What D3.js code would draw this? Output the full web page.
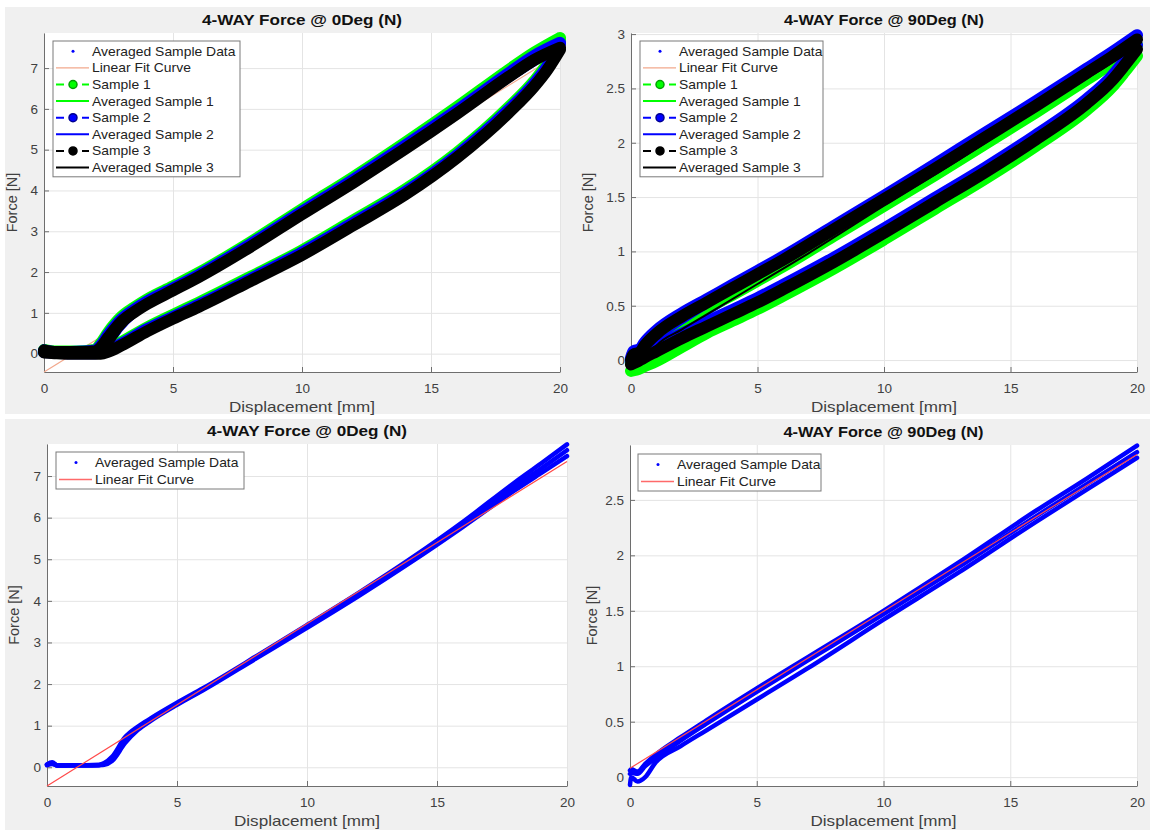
<!DOCTYPE html>
<html lang="en">
<head>
<meta charset="UTF-8">
<title>4-WAY Force</title>
<script src="https://d3js.org/d3.v7.min.js"></script>
<style>
  body { margin: 0; background: #fff; }
  svg { display: block; font-family: "Liberation Sans", Arial, sans-serif; }
</style>
</head>
<body>
<svg width="1152" height="830"></svg>
<script>
// ---------- data ----------
const xTicks = [0, 5, 10, 15, 20];
const yTicks0 = [0, 1, 2, 3, 4, 5, 6, 7];
const yTicks90 = [0, 0.5, 1, 1.5, 2, 2.5, 3];
const yTicks90b = [0, 0.5, 1, 1.5, 2, 2.5];

// 0 deg, loading branch (x ascending)
const xLoad0 = [0, 0.5, 1, 1.5, 2, 2.2, 2.5, 3, 3.5, 4, 5, 6, 8, 10, 12, 14, 16, 18, 19, 20];
const s1Load0 = [0.09, 0.05, 0.05, 0.06, 0.1, 0.25, 0.53, 0.9, 1.13, 1.33, 1.65, 1.98, 2.73, 3.54, 4.33, 5.17, 6.04, 6.95, 7.38, 7.74];
const s2Load0 = [0.08, 0.04, 0.04, 0.05, 0.08, 0.2, 0.47, 0.84, 1.08, 1.28, 1.6, 1.93, 2.68, 3.48, 4.27, 5.1, 5.96, 6.87, 7.3, 7.62];
const s3Load0 = [0.08, 0.04, 0.04, 0.04, 0.06, 0.15, 0.4, 0.78, 1.02, 1.22, 1.55, 1.88, 2.62, 3.42, 4.2, 5.02, 5.88, 6.78, 7.2, 7.5];
// 0 deg, unloading branch (x ascending)
const xUnload0 = [0, 0.5, 1, 1.5, 2, 2.2, 2.5, 3, 4, 5, 6, 8, 10, 12, 14, 16, 18, 19, 19.5, 20];
const s1Unload0 = [0.05, 0.03, 0.02, 0.02, 0.02, 0.04, 0.1, 0.28, 0.64, 0.95, 1.25, 1.88, 2.53, 3.27, 4.02, 4.92, 6.03, 6.68, 7.1, 7.7];
const s2Unload0 = [0.04, 0.02, 0.01, 0.01, 0.01, 0.02, 0.08, 0.24, 0.6, 0.9, 1.2, 1.83, 2.48, 3.21, 3.96, 4.86, 5.97, 6.62, 7.03, 7.6];
const s3Unload0 = [0.03, 0.01, 0.0, 0.0, 0.0, 0.0, 0.05, 0.2, 0.55, 0.86, 1.15, 1.78, 2.42, 3.15, 3.9, 4.8, 5.9, 6.55, 6.95, 7.45];

// 90 deg, loading branch
const xLoad90 = [0, 0.1, 0.2, 0.3, 0.5, 1, 2, 3, 4, 5, 6, 8, 10, 12, 14, 16, 18, 19, 20];
const s1Load90 = [-0.03, 0.0, 0.01, 0.02, 0.08, 0.19, 0.35, 0.48, 0.6, 0.73, 0.86, 1.14, 1.42, 1.7, 1.99, 2.28, 2.58, 2.73, 2.9];
const s2Load90 = [0.02, 0.08, 0.09, 0.08, 0.15, 0.27, 0.43, 0.56, 0.69, 0.82, 0.95, 1.23, 1.51, 1.8, 2.09, 2.38, 2.68, 2.83, 2.99];
const s3Load90 = [0.0, 0.05, 0.06, 0.05, 0.12, 0.24, 0.4, 0.53, 0.66, 0.79, 0.92, 1.2, 1.48, 1.76, 2.05, 2.34, 2.64, 2.79, 2.95];
// 90 deg, unloading branch
const xUnload90 = [0, 0.2, 0.5, 1, 2, 3, 4, 5, 6, 8, 10, 12, 14, 16, 18, 19, 19.5, 20];
const s1Unload90 = [-0.1, -0.09, -0.06, -0.01, 0.12, 0.25, 0.36, 0.47, 0.59, 0.84, 1.11, 1.39, 1.67, 1.97, 2.3, 2.51, 2.65, 2.8];
const s2Unload90 = [0.0, 0.02, 0.06, 0.12, 0.24, 0.35, 0.46, 0.57, 0.69, 0.94, 1.21, 1.49, 1.77, 2.07, 2.4, 2.61, 2.75, 2.9];
const s3Unload90 = [-0.04, -0.02, 0.02, 0.08, 0.2, 0.31, 0.42, 0.53, 0.65, 0.9, 1.17, 1.45, 1.73, 2.03, 2.36, 2.57, 2.71, 2.86];

// averaged sample data (bottom row)
const xAvg0 = [0, 0.2, 0.4, 1, 1.5, 2, 2.2, 2.5, 3, 3.5, 4, 5, 6, 8, 10, 12, 14, 16, 18, 19, 20];
const avgA0 = [0.07, 0.12, 0.04, 0.05, 0.05, 0.06, 0.1, 0.25, 0.72, 0.98, 1.18, 1.55, 1.9, 2.65, 3.42, 4.2, 5.02, 5.9, 6.85, 7.3, 7.76];
const avgB0 = [0.06, 0.1, 0.04, 0.05, 0.05, 0.05, 0.08, 0.2, 0.65, 0.94, 1.15, 1.52, 1.87, 2.62, 3.38, 4.16, 4.97, 5.84, 6.75, 7.18, 7.62];
const avgC0 = [0.05, 0.08, 0.04, 0.04, 0.04, 0.05, 0.06, 0.15, 0.58, 0.9, 1.12, 1.5, 1.85, 2.6, 3.35, 4.12, 4.93, 5.78, 6.66, 7.07, 7.48];
const xAvg90 = [0, 0.05, 0.3, 0.6, 1, 2, 3, 5, 7, 10, 13, 16, 18, 20];
const avgA90 = [0.06, 0.07, 0.05, 0.12, 0.2, 0.36, 0.51, 0.8, 1.08, 1.5, 1.94, 2.4, 2.69, 2.99];
const avgB90 = [0.03, 0.04, 0.03, 0.1, 0.17, 0.33, 0.48, 0.77, 1.05, 1.47, 1.9, 2.35, 2.64, 2.93];
const avgC90 = [-0.07, 0.0, -0.04, 0.0, 0.13, 0.28, 0.42, 0.7, 0.98, 1.42, 1.85, 2.3, 2.59, 2.88];

// linear fits (end points)
const fitX = [0, 20];
const fitY0 = [-0.45, 7.35];
const fitY90 = [0.08, 2.91];

const legendFull = ["Averaged Sample Data", "Linear Fit Curve", "Sample 1", "Averaged Sample 1",
                    "Sample 2", "Averaged Sample 2", "Sample 3", "Averaged Sample 3"];
const legendShort = ["Averaged Sample Data", "Linear Fit Curve"];

// ---------- drawing ----------
const svg = d3.select("svg");
const GREEN = "#00ff00", BLUE = "#0000ff", BLACK = "#000000";

// figure backgrounds (two stacked screenshots)
svg.append("rect").attr("x", 5).attr("y", 7).attr("width", 1145).attr("height", 407).attr("fill", "#f0f0f0");
svg.append("rect").attr("x", 5).attr("y", 419).attr("width", 1145).attr("height", 411).attr("fill", "#f0f0f0");

function pts(xs, ys) { return xs.map((d, i) => [d, ys[i]]); }

function panel(box, yDom, yTicks, title, yLabX) {
  const x = d3.scaleLinear().domain([0, 20]).range([box.l, box.r]);
  const y = d3.scaleLinear().domain(yDom).range([box.b, box.t]);
  const g = svg.append("g");
  g.append("rect").attr("x", box.l).attr("y", box.t)
    .attr("width", box.r - box.l).attr("height", box.b - box.t).attr("fill", "#fff");

  // grid
  const gx = g.append("g").attr("transform", `translate(0,${box.b})`)
    .call(d3.axisBottom(x).tickValues(xTicks).tickSize(-(box.b - box.t)).tickFormat(""));
  const gy = g.append("g").attr("transform", `translate(${box.l},0)`)
    .call(d3.axisLeft(y).tickValues(yTicks).tickSize(-(box.r - box.l)).tickFormat(""));
  [gx, gy].forEach(a => {
    a.select(".domain").remove();
    a.selectAll("line").attr("stroke", "#e4e4e4");
  });

  // axes
  const ax = g.append("g").attr("transform", `translate(0,${box.b})`)
    .call(d3.axisBottom(x).tickValues(xTicks).tickSize(-5).tickSizeOuter(0).tickPadding(11).tickFormat(d => d));
  const ay = g.append("g").attr("transform", `translate(${box.l},0)`)
    .call(d3.axisLeft(y).tickValues(yTicks).tickSize(-5).tickSizeOuter(0).tickPadding(6).tickFormat(d => d));
  [ax, ay].forEach(a => {
    a.select(".domain").attr("stroke", "#6e6e6e");
    a.selectAll(".tick line").attr("stroke", "#6e6e6e");
    a.selectAll("text").attr("fill", "#404040").attr("font-size", 13.5)
      .attr("font-family", "Liberation Sans, Arial, sans-serif");
  });

  const cx = (box.l + box.r) / 2;
  g.append("text").attr("x", cx).attr("y", box.t - 8).attr("text-anchor", "middle")
    .attr("font-weight", "bold").attr("font-size", 14).attr("fill", "#111")
    .attr("textLength", 200).attr("lengthAdjust", "spacingAndGlyphs").text(title);
  g.append("text").attr("x", cx).attr("y", box.b + 40).attr("text-anchor", "middle")
    .attr("font-size", 14.5).attr("fill", "#404040")
    .attr("textLength", 146).attr("lengthAdjust", "spacingAndGlyphs").text("Displacement [mm]");
  g.append("text").attr("transform", `translate(${yLabX},${(box.t + box.b) / 2}) rotate(-90)`)
    .attr("text-anchor", "middle").attr("font-size", 14.5).attr("fill", "#404040").text("Force [N]");

  return { g, x, y };
}

function curve(p, data, color, width) {
  const line = d3.line().x(d => p.x(d[0])).y(d => p.y(d[1])).curve(d3.curveMonotoneX);
  p.g.append("path").datum(data).attr("d", line)
    .attr("fill", "none").attr("stroke", color).attr("stroke-width", width)
    .attr("stroke-linejoin", "round").attr("stroke-linecap", "round");
}

function fitLine(p, ys, color) {
  p.g.append("path").datum(pts(fitX, ys))
    .attr("d", d3.line().x(d => p.x(d[0])).y(d => p.y(d[1])))
    .attr("fill", "none").attr("stroke", color).attr("stroke-width", 1.2);
}

function legend(p, x0, y0, w, rowH, labels, fitColor) {
  const h = rowH * labels.length + 3;
  const lg = p.g.append("g");
  lg.append("rect").attr("x", x0).attr("y", y0).attr("width", w).attr("height", h)
    .attr("fill", "#fff").attr("stroke", "#7a7a7a").attr("stroke-width", 1);
  const sym = [
    { t: "dot", c: BLUE }, { t: "line", c: fitColor },
    { t: "mark", c: GREEN, e: "#00a000" }, { t: "line", c: GREEN },
    { t: "mark", c: BLUE, e: "#000090" }, { t: "line", c: BLUE },
    { t: "mark", c: BLACK, e: "#000" }, { t: "line", c: BLACK }
  ];
  labels.forEach((lab, i) => {
    const cy = y0 + rowH / 2 + 2 + i * rowH;
    const s = sym[i];
    if (s.t === "dot") {
      lg.append("circle").attr("cx", x0 + 20).attr("cy", cy).attr("r", 1.5).attr("fill", s.c);
    } else if (s.t === "line") {
      lg.append("line").attr("x1", x0 + 3).attr("x2", x0 + 36).attr("y1", cy).attr("y2", cy)
        .attr("stroke", s.c).attr("stroke-width", i === 1 ? 1.3 : 2);
    } else {
      lg.append("line").attr("x1", x0 + 3).attr("x2", x0 + 36).attr("y1", cy).attr("y2", cy)
        .attr("stroke", s.c).attr("stroke-width", 2).attr("stroke-dasharray", "8,18");
      lg.append("circle").attr("cx", x0 + 20).attr("cy", cy).attr("r", 4)
        .attr("fill", s.c).attr("stroke", s.e).attr("stroke-width", 1.5);
    }
    lg.append("text").attr("transform", `translate(${x0 + 39},${cy}) scale(1.07,1)`)
      .attr("dy", "0.35em").attr("font-size", 13).attr("fill", "#222").text(lab);
  });
}

// ---- top-left: 0 deg, all samples ----
const tl = panel({ l: 44, r: 560, t: 33, b: 372 }, [-0.45, 7.86], yTicks0, "4-WAY Force @ 0Deg (N)", 17);
[avgA0, avgB0, avgC0].forEach(a => curve(tl, pts(xAvg0, a), BLUE, 3));
fitLine(tl, fitY0, "#f2a88c");
[[s1Load0, s1Unload0, GREEN, avgA0], [s2Load0, s2Unload0, BLUE, avgB0], [s3Load0, s3Unload0, BLACK, avgC0]]
  .forEach(([ld, ul, c, av]) => {
    curve(tl, pts(xLoad0, ld), c, 12);
    curve(tl, pts(xUnload0, ul), c, 12);
    curve(tl, pts(xAvg0, av), c, 2);
  });
legend(tl, 53, 41, 187, 16.6, legendFull, "#f2a88c");

// ---- top-right: 90 deg, all samples ----
const tr = panel({ l: 631, r: 1137, t: 33, b: 372 }, [-0.11, 3.01], yTicks90, "4-WAY Force @ 90Deg (N)", 593);
[avgA90, avgB90, avgC90].forEach(a => curve(tr, pts(xAvg90, a), BLUE, 3));
fitLine(tr, fitY90, "#f2a88c");
[[s1Load90, s1Unload90, GREEN, avgA90], [s2Load90, s2Unload90, BLUE, avgB90], [s3Load90, s3Unload90, BLACK, avgC90]]
  .forEach(([ld, ul, c, av]) => {
    curve(tr, pts(xLoad90, ld), c, 12);
    curve(tr, pts(xUnload90, ul), c, 12);
    curve(tr, pts(xAvg90, av), c, 2);
  });
legend(tr, 640, 41, 183, 16.6, legendFull, "#f2a88c");

// ---- bottom-left: 0 deg averaged ----
const bl = panel({ l: 47, r: 567, t: 444, b: 786 }, [-0.45, 7.77], yTicks0, "4-WAY Force @ 0Deg (N)", 19);
[avgA0, avgB0, avgC0].forEach(a => curve(bl, pts(xAvg0, a), BLUE, 4.5));
fitLine(bl, fitY0, "#ff4a4a");
legend(bl, 56, 452, 188, 17, legendShort, "#ff6a6a");

// ---- bottom-right: 90 deg averaged ----
const br = panel({ l: 630, r: 1137, t: 445, b: 786 }, [-0.08, 2.995], yTicks90b, "4-WAY Force @ 90Deg (N)", 597);
[avgA90, avgB90, avgC90].forEach(a => curve(br, pts(xAvg90, a), BLUE, 4.5));
fitLine(br, fitY90, "#ff4a4a");
legend(br, 638, 454, 183, 17, legendShort, "#ff6a6a");
</script>
</body>
</html>
